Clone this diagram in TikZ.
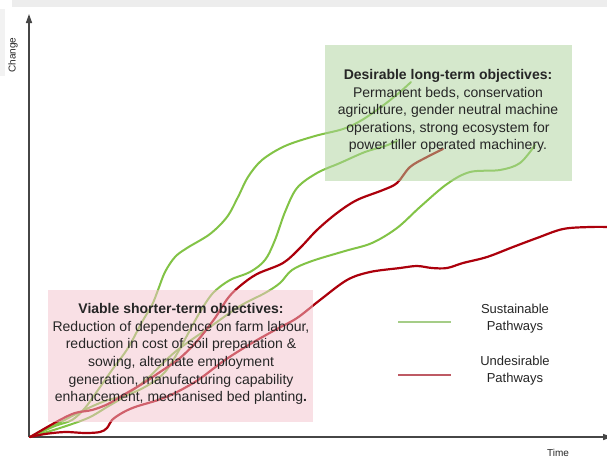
\documentclass[tikz,border=0pt]{standalone}
\usepackage{fontspec}
\setmainfont{Liberation Sans}
\usetikzlibrary{arrows.meta}
\definecolor{gline}{RGB}{130,195,70}
\definecolor{rline}{RGB}{172,0,12}
\definecolor{gbox}{RGB}{173,211,155}
\definecolor{pbox}{RGB}{245,195,205}
\definecolor{axiscol}{RGB}{70,70,70}
\definecolor{lgreen}{RGB}{165,205,135}
\definecolor{lred}{RGB}{190,90,100}
\tikzset{
  axisline/.style={draw=axiscol, line width=1.4pt},
  greenpath/.style={draw=gline, line width=2pt, line cap=round, line join=round},
  redpath/.style={draw=rline, line width=2.2pt, line cap=round, line join=round},
  overlaybox/.style={draw=none, fill opacity=0.5},
  boxtext/.style={align=center, font=\fontsize{14}{17.6}\selectfont, text=black!85},
  legtext/.style={align=center, font=\fontsize{13}{17}\selectfont, text=black!85},
  axlabel/.style={font=\fontsize{10}{12}\selectfont, text=black!85}
}
\begin{document}
\begin{tikzpicture}[x=1pt,y=-1pt]
\useasboundingbox (0,0) rectangle (607,459);
\fill[white] (0,0) rectangle (607,459);
% faint page artefacts
\fill[black!7] (12,0) rectangle (607,7);
\fill[black!5] (0,9) rectangle (5,76);

% axes
\coordinate (O) at (29,437);
\coordinate (Ytop) at (29,14);
\coordinate (Xend) at (612,437);
\draw[axisline, -{Triangle[length=9pt,width=6pt]}] (O) -- (Ytop);
\draw[axisline, -{Triangle[length=9pt,width=6pt]}] (O) -- (Xend);
\node[axlabel, rotate=90] (change) at (13,55) {Change};
\node[axlabel] (time) at (558,453) {Time};

% pathways
\draw[greenpath] plot[smooth, tension=0.55] coordinates {(30,437) (55,426) (72,420) (85,408) (98,390) (112,370) (128,348) (142,322) (152,305) (158,290) (165,272) (175,257) (187,248) (210,234) (227,217) (238,197) (248,177) (262,160) (285,146) (315,136) (343,129) (362,120) (385,104) (400,92) (411,82)};
\draw[greenpath] plot[smooth, tension=0.55] coordinates {(30,437) (55,425) (80,412) (105,401) (130,394) (150,384) (165,372) (178,352) (190,330) (200,312) (213,293) (230,280) (250,272) (265,260) (275,240) (285,212) (297,188) (317,173) (340,163) (365,152) (385,146) (397,141)};
\draw[greenpath] plot[smooth, tension=0.55] coordinates {(30,437) (60,428) (88,418) (107,407) (125,396) (148,378) (175,352) (210,327) (240,306) (265,293) (280,283) (292,270) (312,261) (345,251) (372,243) (397,228) (420,207) (447,184) (470,172) (500,170) (520,163) (535,145)};
\draw[redpath] plot[smooth, tension=0.55] coordinates {(30,437) (58,421) (75,413) (92,410) (108,404) (125,394) (142,384) (160,372) (180,358) (198,340) (215,318) (228,298) (240,286) (257,274) (283,263) (300,248) (317,230) (337,213) (357,200) (383,190) (397,183) (410,167) (427,157) (443,149)};
\draw[redpath] plot[smooth, tension=0.55] coordinates {(30,437) (45,434) (65,432) (85,433) (100,432) (107,428) (112,420) (122,413) (135,407) (158,400) (175,393) (198,380) (225,360) (252,343) (275,330) (297,318) (320,300) (347,280) (370,272) (400,268) (417,266) (432,268) (447,268) (463,263) (487,257) (513,247) (537,238) (563,229) (590,227) (610,227)};

% overlay boxes
\fill[overlaybox, fill=gbox] (325,45) rectangle (572,181);
\fill[overlaybox, fill=pbox] (48,290) rectangle (313,422);

% texts
\node[boxtext] (longterm) at (448,111) {\textbf{Desirable long-term objectives:}\\Permanent beds, conservation\\agriculture, gender neutral machine\\operations, strong ecosystem for\\power tiller operated machinery.};
\node[boxtext] (shortterm) at (181,354) {\textbf{Viable shorter-term objectives:}\\Reduction of dependence on farm labour,\\reduction in cost of soil preparation \&\\sowing, alternate employment\\generation, manufacturing capability\\enhancement, mechanised bed planting\textbf{.}};

% legend
\coordinate (lg1) at (398,322);
\coordinate (lg2) at (451,322);
\coordinate (lr1) at (398,375);
\coordinate (lr2) at (451,375);
\draw[draw=lgreen, line width=1.5pt] (lg1) -- (lg2);
\draw[draw=lred, line width=1.5pt] (lr1) -- (lr2);
\node[legtext] (sust) at (515,319) {Sustainable\\Pathways};
\node[legtext] (undes) at (515,371) {Undesirable\\Pathways};
\end{tikzpicture}
\end{document}
